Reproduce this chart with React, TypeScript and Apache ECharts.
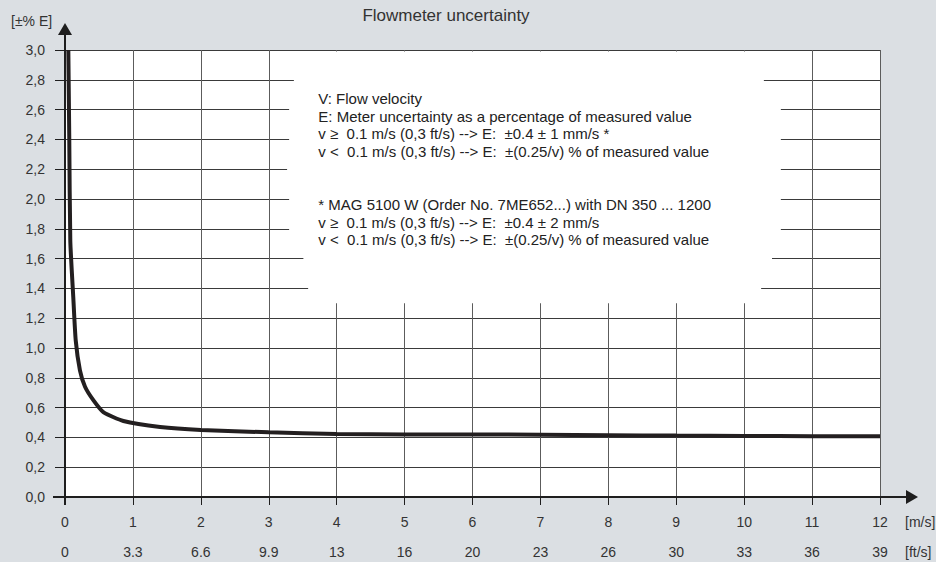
import React, { useEffect, useRef } from "react";
import * as echarts from "echarts";

const velocityMs = [0.049, 0.063, 0.078, 0.122, 0.158, 0.22, 0.295, 0.417, 0.564, 0.86, 1.4, 2.0, 3.0, 4.0, 5, 6, 7, 8, 9, 10, 11, 12];
const uncertaintyPct = [3.0, 2.4, 1.72, 1.34, 1.05, 0.85, 0.74, 0.65, 0.57, 0.51, 0.47, 0.45, 0.434, 0.423, 0.42, 0.42, 0.418, 0.415, 0.412, 0.41, 0.408, 0.408];
const msTicks = ["0", "1", "2", "3", "4", "5", "6", "7", "8", "9", "10", "11", "12"];
const ftTicks = ["0", "3.3", "6.6", "9.9", "13", "16", "20", "23", "26", "30", "33", "36", "39"];

const TITLE = "Flowmeter uncertainty";
const Y_NAME = "[±% E]";
const X_UNIT = "[m/s]";
const X2_UNIT = "[ft/s]";
const NOTE = [
  "V: Flow velocity",
  "E: Meter uncertainty as a percentage of measured value",
  "v ≥  0.1 m/s (0,3 ft/s) --> E:  ±0.4 ± 1 mm/s *",
  "v <  0.1 m/s (0,3 ft/s) --> E:  ±(0.25/v) % of measured value",
  "",
  "",
  "* MAG 5100 W (Order No. 7ME652...) with DN 350 ... 1200",
  "v ≥  0.1 m/s (0,3 ft/s) --> E:  ±0.4 ± 2 mm/s",
  "v <  0.1 m/s (0,3 ft/s) --> E:  ±(0.25/v) % of measured value",
].join("\n");

const FONT = "'Liberation Sans', Arial, sans-serif";
const BG = "#dbdfe3";
const INK = "#1e1e1e";
const TXT = "#333333";

export default function App() {
  const ref = useRef<HTMLDivElement>(null);
  useEffect(() => {
    const chart = echarts.init(ref.current!, null, { renderer: "svg" });
    const data = velocityMs.map((v, i) => [v, uncertaintyPct[i]]);
    chart.setOption({
      animation: false,
      backgroundColor: BG,
      grid: { left: 65, top: 50, width: 815, height: 447, show: true, backgroundColor: "#ffffff", borderWidth: 0 },
      xAxis: [
        {
          type: "value", min: 0, max: 12, interval: 1,
          axisLine: { show: false },
          axisTick: { show: true, length: 8, lineStyle: { color: INK, width: 1 } },
          axisLabel: { margin: 18, color: TXT, fontSize: 14, fontFamily: FONT, formatter: (v: number) => msTicks[Math.round(v)] },
          splitLine: { show: true, lineStyle: { color: "#5c5c5c", width: 1 } },
        },
        {
          type: "value", min: 0, max: 12, interval: 1, position: "bottom", offset: 30,
          axisLine: { show: false }, axisTick: { show: false }, splitLine: { show: false },
          axisLabel: { margin: 18, color: TXT, fontSize: 14, fontFamily: FONT, formatter: (v: number) => ftTicks[Math.round(v)] },
        },
      ],
      yAxis: {
        type: "value", min: 0, max: 3, interval: 0.2,
        axisLine: { show: false },
        axisTick: { show: true, length: 10, lineStyle: { color: INK, width: 1 } },
        axisLabel: { margin: 20, color: TXT, fontSize: 14, fontFamily: FONT, formatter: (v: number) => v.toFixed(1).replace(".", ",") },
        splitLine: { show: true, lineStyle: { color: "#3a3a3a", width: 1 } },
      },
      series: [
        {
          type: "line", data, xAxisIndex: 0, yAxisIndex: 0, showSymbol: false, smooth: 0.2, clip: true, z: 5,
          lineStyle: { color: "#231f20", width: 4 },
        },
      ],
    });

    const p = (x: number, y: number) => chart.convertToPixel({ xAxisIndex: 0, yAxisIndex: 0 }, [x, y]) as number[];
    const o = p(0, 0);
    const top = p(0, 3);
    const end = p(12, 0);
    const boxData = [
      [3.37, 2.99], [3.37, 2.7], [3.30, 2.7], [3.30, 2.3], [3.27, 2.3], [3.27, 2.1], [3.30, 2.1], [3.30, 1.7],
      [3.51, 1.7], [3.51, 1.5], [3.58, 1.5], [3.58, 1.30], [10.25, 1.30], [10.25, 1.5], [10.41, 1.5], [10.41, 1.7],
      [10.54, 1.7], [10.54, 2.7], [10.29, 2.7], [10.29, 2.99],
    ];
    const notePos = p(3.73, 0);
    chart.setOption({
      graphic: [
        { type: "polygon", z: 3, shape: { points: boxData.map(([a, b]) => p(a, b)) }, style: { fill: "#ffffff" }, silent: true },
        { type: "line", z: 10, shape: { x1: o[0], y1: o[1] + 8, x2: o[0], y2: top[1] - 16 }, style: { stroke: INK, lineWidth: 2 } },
        { type: "polygon", z: 10, shape: { points: [[o[0], top[1] - 27], [o[0] - 7, top[1] - 15], [o[0] + 7, top[1] - 15]] }, style: { fill: INK } },
        { type: "line", z: 10, shape: { x1: o[0] - 12, y1: o[1], x2: end[0] + 27, y2: o[1] }, style: { stroke: INK, lineWidth: 2 } },
        { type: "polygon", z: 10, shape: { points: [[end[0] + 38, o[1]], [end[0] + 26, o[1] - 7], [end[0] + 26, o[1] + 7]] }, style: { fill: INK } },
        { type: "text", z: 10, style: { x: 446, y: 15, text: TITLE, font: `17px ${FONT}`, fill: TXT, align: "center", verticalAlign: "middle" } },
        { type: "text", z: 10, style: { x: 11, y: 21, text: Y_NAME, font: `14px ${FONT}`, fill: TXT, align: "left", verticalAlign: "middle" } },
        { type: "text", z: 10, style: { x: end[0] + 25, y: o[1] + 25, text: X_UNIT, font: `14px ${FONT}`, fill: TXT, align: "left", verticalAlign: "middle" } },
        { type: "text", z: 10, style: { x: end[0] + 25, y: o[1] + 55, text: X2_UNIT, font: `14px ${FONT}`, fill: TXT, align: "left", verticalAlign: "middle" } },
        { type: "text", z: 10, style: { x: notePos[0], y: 89.5, text: NOTE, font: `15px ${FONT}`, lineHeight: 17.7, fill: "#222222", align: "left", verticalAlign: "top" } },
      ],
    });
    return () => chart.dispose();
  }, []);
  return <div ref={ref} style={{ position: "fixed", left: 0, top: 0, width: 936, height: 562 }} />;
}
